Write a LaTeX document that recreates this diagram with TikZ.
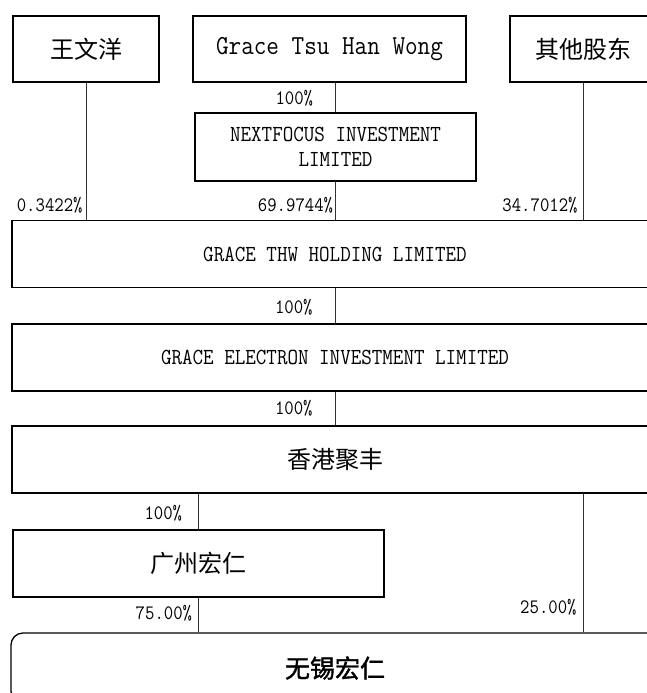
\documentclass[tikz,border=0pt]{standalone}
\usepackage{fontspec}
\newfontfamily\cjk{Noto Sans CJK SC}
\newfontfamily\cjkbold[FakeBold=1.5]{Noto Sans CJK SC}
\newfontfamily\latin[FakeStretch=0.89]{Latin Modern Mono}
\tikzset{
  box/.style={draw, line width=1.3pt, inner sep=0pt, minimum height=66pt,
    font=\cjk\fontsize{24}{24}\selectfont},
  engbox/.style={box, align=center, font=\latin\fontsize{23}{25}\selectfont},
  pct/.style={anchor=east, inner sep=0pt, font=\latin\fontsize{20.5}{20.5}\selectfont},
  link/.style={line width=0.8pt, draw=black!80},
}
\begin{document}
\begin{tikzpicture}[x=1pt,y=-1pt]
  \clip (0,0) rectangle (647,693);
  % shareholders
  \node [box, minimum width=146pt] (wang) at (86,49) {王文洋};
  \node [engbox, minimum width=273pt, font=\latin\fontsize{27.5}{27.5}\selectfont]
   (grace) at (329.5,49) {Grace Tsu Han Wong};
  \node [box, minimum width=146pt] (other) at (583,49) {其他股东};
  \node [engbox, minimum width=281pt, minimum height=68pt] (next) at (335.5,147)
   {NEXTFOCUS INVESTMENT\\LIMITED};
  % holding chain
  \node [engbox, minimum width=646pt, minimum height=67pt] (thw) at (335,254)
   {GRACE THW HOLDING LIMITED};
  \node [engbox, minimum width=646pt, minimum height=67pt] (elec) at (335,357.5)
   {GRACE ELECTRON INVESTMENT LIMITED};
  \node [box, minimum width=646pt, minimum height=67pt] (hk) at (335,459.5) {香港聚丰};
  \node [box, minimum width=371pt, minimum height=67pt] (gz) at (198.5,563.5) {广州宏仁};
  \node [box, rounded corners=12pt, minimum width=648pt, minimum height=70pt,
   font=\cjkbold\fontsize{25}{25}\selectfont] (wx) at (335,668) {无锡宏仁};
  % links
  \draw [link] (wang.south) -- (wang.south |- thw.north)
   node [pct, pos=0.89, xshift=-3pt] {0.3422\%};
  \draw [link] (next.north) -- (next.north |- grace.south)
   node [pct, pos=0.48, xshift=-22pt] {100\%};
  \draw [link] (next.south) -- (next.south |- thw.north)
   node [pct, pos=0.62, xshift=-2pt] {69.9744\%};
  \draw [link] (other.south) -- (other.south |- thw.north)
   node [pct, pos=0.89, xshift=-5pt] {34.7012\%};
  \draw [link] (thw.south) -- (elec.north)
   node [pct, pos=0.54, xshift=-22pt] {100\%};
  \draw [link] (elec.south) -- (hk.north)
   node [pct, pos=0.49, xshift=-22pt] {100\%};
  \draw [link] (gz.north |- hk.south) -- (gz.north)
   node [pct, pos=0.54, xshift=-16pt] {100\%};
  \draw [link] (gz.south) -- (gz.south |- wx.north)
   node [pct, pos=0.44, xshift=-6pt] {75.00\%};
  \draw [link] (other.south |- hk.south) -- (other.south |- wx.north)
   node [pct, pos=0.82, xshift=-6pt] {25.00\%};
\end{tikzpicture}
\end{document}
